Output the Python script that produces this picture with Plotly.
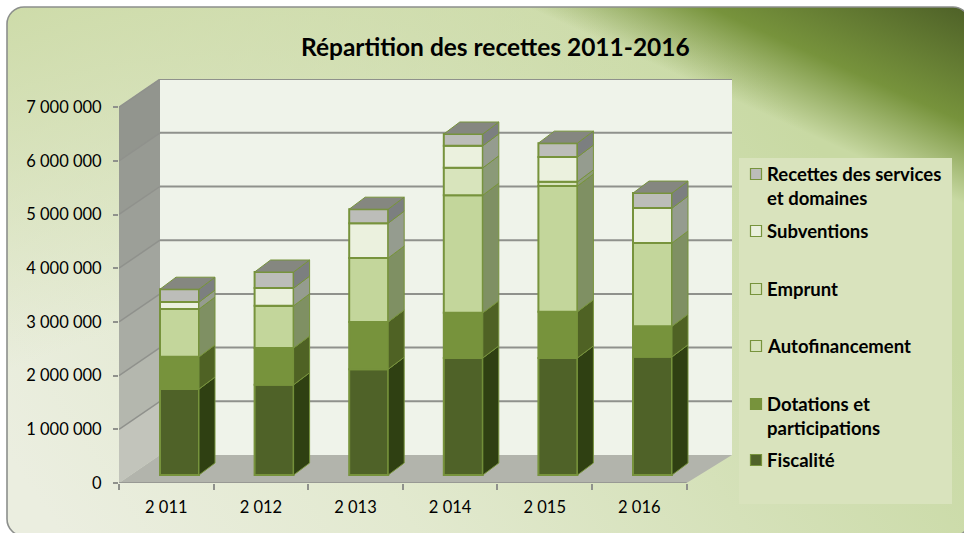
import base64
import plotly.graph_objects as go

W, H = 964, 533
years = ["2 011", "2 012", "2 013", "2 014", "2 015", "2 016"]
fiscalite = [1600000, 1680000, 1970000, 2180000, 2180000, 2200000]
dotations = [600000, 685000, 880000, 840000, 860000, 570000]
autofinancement = [890000, 785000, 1190000, 2190000, 2340000, 1550000]
emprunt = [0, 0, 0, 510000, 80000, 0]
subventions = [130000, 330000, 650000, 410000, 460000, 650000]
recettes = [240000, 300000, 260000, 220000, 260000, 280000]
y_ticks = [0, 1000000, 2000000, 3000000, 4000000, 5000000, 6000000, 7000000]
y_labels = ["0", "1 000 000", "2 000 000", "3 000 000", "4 000 000", "5 000 000", "6 000 000", "7 000 000"]
wall_band_colors = ["#c2c4bb", "#b4b7ae", "#a9aca4", "#a2a59e", "#9c9f98", "#979a93", "#92958e"]

series = [
    ("Fiscalité", fiscalite, "#4f6228", "#2f4012"),
    ("Dotations et participations", dotations, "#77933c", "#4f6224"),
    ("Autofinancement", autofinancement, "#c3d69b", "#7f9063"),
    ("Emprunt", emprunt, "#d8e4bc", "#8b9a78"),
    ("Subventions", subventions, "#ebf1de", "#959c8f"),
    ("Recettes des services et domaines", recettes, "#bcbdb9", "#7c7f80"),
]
legend_rows = [
    (["Recettes des services", "et domaines"], "#bcbdb9", 174),
    (["Subventions"], "#ebf1de", 231),
    (["Emprunt"], "#d8e4bc", 289),
    (["Autofinancement"], "#d8e4bc", 346),
    (["Dotations et", "participations"], "#77933c", 404),
    (["Fiscalité"], "#4f6228", 460),
]

# plot area in pixels
L, R, T, B = 119, 732, 79, 483
PX_X = 94.6            # pixels per category
PX_Y = 53.7 / 1e6      # pixels per unit of value
x_max = (R - L) / PX_X
y_max = (B - T) / PX_Y
wall_dx, wall_dy = 41 / PX_X, 28 / PX_Y
bar_dx, bar_dy = 16 / PX_X, 12 / PX_Y
bar_lift = 8 / PX_Y
bar_w = 39 / PX_X
bar_c = [(179.5 - L + PX_X * i) / PX_X for i in range(6)]


def paper_x(p):
    return (p - L) / (R - L)


def paper_y(p):
    return (B - p) / (B - T)


card = 'x="7" y="7" width="963" height="529" rx="17"'
svg = f'''<svg xmlns="http://www.w3.org/2000/svg" width="{W}" height="{H}" viewBox="0 0 {W} {H}">
<defs>
<linearGradient id="base" gradientUnits="userSpaceOnUse" x1="60" y1="533" x2="760" y2="60">
<stop offset="0" stop-color="#ebeee0"/><stop offset="0.35" stop-color="#e2e9cf"/>
<stop offset="1" stop-color="#c8d9a3"/></linearGradient>
<linearGradient id="left" gradientUnits="userSpaceOnUse" x1="0" y1="0" x2="120" y2="330">
<stop offset="0" stop-color="#cddba8"/><stop offset="1" stop-color="#cddba8" stop-opacity="0"/></linearGradient>
<linearGradient id="dark" gradientUnits="userSpaceOnUse" x1="800" y1="130" x2="873" y2="-32">
<stop offset="0" stop-color="#77933c" stop-opacity="0"/><stop offset="0.42" stop-color="#77933c" stop-opacity="1"/>
<stop offset="1" stop-color="#4f6228"/></linearGradient>
</defs>
<rect {card} fill="url(#base)"/>
<rect {card} fill="url(#left)"/>
<rect {card} fill="url(#dark)"/>
<rect {card} fill="none" stroke="#8c8f8c" stroke-width="1.6"/>
</svg>'''
bg = "data:image/svg+xml;base64," + base64.b64encode(svg.encode()).decode()

fig = go.Figure()

# front faces, stacked through the axis scale
base = [bar_lift] * 6
stack_bases = []
for name, vals, col, side in series:
    stack_bases.append(list(base))
    fig.add_trace(go.Bar(x=bar_c, y=vals, base=list(base), width=bar_w, name=name, showlegend=False,
                         marker=dict(color=col, line=dict(color="#77933c", width=2)),
                         hovertemplate=name + "<br>%{y:,.0f}<extra></extra>"))
    base = [b + v for b, v in zip(base, vals)]

# side faces and top faces derived from the same values
for (name, vals, col, side), bases in zip(series, stack_bases):
    xs, ys = [], []
    for c, b, v in zip(bar_c, bases, vals):
        if v == 0:
            continue
        x1 = c + bar_w / 2
        xs += [x1, x1 + bar_dx, x1 + bar_dx, x1, x1, None]
        ys += [b, b + bar_dy, b + v + bar_dy, b + v, b, None]
    fig.add_trace(go.Scatter(x=xs, y=ys, mode="lines", fill="toself", fillcolor=side,
                             line=dict(color="#77933c", width=1),
                             hoverinfo="skip", showlegend=False))
xs, ys = [], []
for c, top in zip(bar_c, base):
    x0, x1 = c - bar_w / 2, c + bar_w / 2
    xs += [x0, x1, x1 + bar_dx, x0 + bar_dx, x0, None]
    ys += [top, top, top + bar_dy, top + bar_dy, top, None]
fig.add_trace(go.Scatter(x=xs, y=ys, mode="lines", fill="toself", fillcolor="#858780",
                         line=dict(color="#77933c", width=1), hoverinfo="skip", showlegend=False))

shapes = []
# side wall, in bands between the ticks
for v0, v1, col in zip(y_ticks[:-1], y_ticks[1:], wall_band_colors):
    shapes.append(dict(type="path", layer="below", xref="x", yref="y", line=dict(width=0), fillcolor=col,
                       path=f"M0,{v0} L{wall_dx},{v0 + wall_dy} L{wall_dx},{v1 + wall_dy} L0,{v1} Z"))
# back wall
shapes.append(dict(type="rect", layer="below", xref="x", yref="y", x0=wall_dx, x1=x_max, y0=wall_dy, y1=y_max,
                   line=dict(width=0), fillcolor="#eff3ea"))
# floor
shapes.append(dict(type="path", layer="below", xref="x", yref="y", line=dict(width=0),
                   path=f"M0,0 L{wall_dx},{wall_dy} L{x_max},{wall_dy} L6,0 Z", fillcolor="#b2b4ac"))
# grid: back wall and side wall
for v in y_ticks:
    if v > 0:
        shapes.append(dict(type="line", layer="below", xref="x", yref="y", x0=wall_dx, x1=x_max,
                           y0=v + wall_dy, y1=v + wall_dy, line=dict(color="#8f918c", width=2)))
        shapes.append(dict(type="line", layer="below", xref="x", yref="y", x0=0, x1=wall_dx,
                           y0=v, y1=v + wall_dy, line=dict(color="#8f918c", width=1.5)))
shapes.append(dict(type="line", xref="x", yref="y", x0=0, x1=6, y0=0, y1=0, layer="below",
                   line=dict(color="#8f918c", width=1.5)))
# legend panel
shapes.append(dict(type="rect", layer="below", xref="paper", yref="paper", x0=paper_x(739), x1=paper_x(952),
                   y0=paper_y(504), y1=paper_y(158), line=dict(width=0), fillcolor="#d9e3bd"))

annotations = [dict(text="<b>Répartition des recettes 2011-2016</b>", xref="paper", yref="paper",
                    x=paper_x(495), y=paper_y(47), xanchor="center", yanchor="middle", showarrow=False,
                    font=dict(family="Lato", size=24.5, color="#000000"))]
for lines, col, yc in legend_rows:
    shapes.append(dict(type="rect", layer="above", xref="paper", yref="paper",
                       x0=paper_x(750.5), x1=paper_x(761.5), y0=paper_y(yc + 5.5), y1=paper_y(yc - 5.5),
                       fillcolor=col, line=dict(color="#77933c", width=1.2)))
    for j, t in enumerate(lines):
        annotations.append(dict(text=f"<b>{t}</b>", xref="paper", yref="paper", x=paper_x(765),
                                y=paper_y(yc + 24 * j), xanchor="left", yanchor="middle", showarrow=False,
                                font=dict(family="Lato", size=18.5, color="#000000")))

fig.update_layout(
    width=W, height=H, autosize=False,
    margin=dict(l=L, r=W - R, t=T, b=H - B, pad=0),
    paper_bgcolor="#ffffff", plot_bgcolor="rgba(0,0,0,0)",
    barmode="overlay", showlegend=False,
    shapes=shapes, annotations=annotations,
    images=[dict(source=bg, xref="paper", yref="paper", x=-L / (R - L), y=1 + T / (B - T),
                 sizex=W / (R - L), sizey=H / (B - T), sizing="stretch", xanchor="left", yanchor="top",
                 layer="below", opacity=1)],
    font=dict(family="Lato", size=16.5, color="#000000"),
    xaxis=dict(range=[0, x_max], tickmode="array", tickvals=[i + 0.5 for i in range(6)], ticktext=years,
               ticks="", showgrid=False, zeroline=False, showline=False, ticklabelstandoff=12,
               minor=dict(tickmode="array", tickvals=list(range(7)), ticks="outside", ticklen=6,
                          tickcolor="#8f918c", tickwidth=1.5, showgrid=False),
               tickfont=dict(family="Lato", size=16.5)),
    yaxis=dict(range=[0, y_max], tickmode="array", tickvals=y_ticks, ticktext=y_labels,
               ticks="outside", ticklen=5, tickcolor="#8f918c", tickwidth=1.5, ticklabelstandoff=8,
               showgrid=False, zeroline=False, showline=False, tickfont=dict(family="Lato", size=16.5)),
)

fig.write_html("out.html", config=dict(displayModeBar=False),
               post_script="document.body.style.margin='0';document.documentElement.style.overflow='hidden';")
